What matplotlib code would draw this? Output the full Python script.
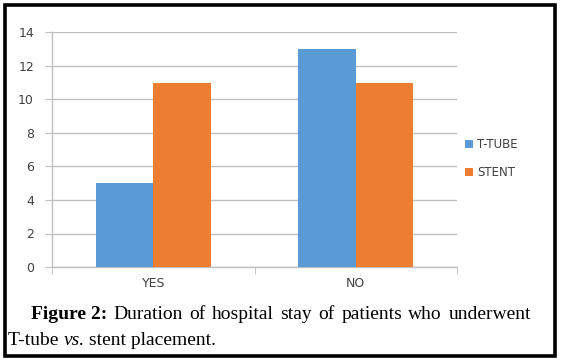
import numpy as np
import matplotlib.pyplot as plt
from matplotlib.patches import Rectangle

categories = ["YES", "NO"]
series_names = ["T-TUBE", "STENT"]
t_tube = [5, 13]
stent = [11, 11]
y_ticks = [0, 2, 4, 6, 8, 10, 12, 14]

BLUE = "#5B9BD5"
ORANGE = "#ED7D31"
GRID = "#BFBFBF"
TICK = "#404040"

W, H = 564, 364
fig = plt.figure(figsize=(W / 100, H / 100), dpi=100)
fig.patch.set_facecolor("white")

# outer black frame
fig.patches.append(Rectangle((5 / W, 1 - 356 / H), 550 / W, 351 / H,
                             transform=fig.transFigure, fill=False,
                             edgecolor="black", lw=2.6))

ax = fig.add_axes([52 / W, 1 - 267 / H, 405 / W, 234.5 / H])
x = np.arange(len(categories))
bw = 0.285
ax.bar(x - bw / 2, t_tube, bw, color=BLUE, label=series_names[0], zorder=3)
ax.bar(x + bw / 2, stent, bw, color=ORANGE, label=series_names[1], zorder=3)

ax.set_xlim(-0.5, 1.5)
ax.set_ylim(0, 14)
ax.set_yticks(y_ticks)
ax.yaxis.grid(True, color=GRID, lw=1.0, zorder=0)
ax.set_axisbelow(True)
for s in ("top", "right"):
    ax.spines[s].set_visible(False)
for s in ("left", "bottom"):
    ax.spines[s].set_color(GRID)
    ax.spines[s].set_linewidth(1.0)

ax.set_xticks(x)
ax.set_xticklabels(categories)
ax.set_xticks([-0.5, 0.5, 1.5], minor=True)
ax.tick_params(axis="x", which="major", length=0, pad=7, labelsize=9, labelcolor=TICK)
ax.tick_params(axis="x", which="minor", length=5, color=GRID, direction="out")
ax.tick_params(axis="y", length=5, color=GRID, labelsize=9, labelcolor=TICK, pad=8)

leg = ax.legend(loc="center left", bbox_to_anchor=(1.02, 0.463),
                frameon=False, fontsize=8.5, handlelength=0.7, handleheight=0.7,
                handletextpad=0.3, labelspacing=1.25, labelcolor=TICK,
                borderpad=0, borderaxespad=0)

# caption, first line justified
serif = "Liberation Serif"
fs = 14
y1 = 1 - 319 / H
left, right = 31 / W, 531 / W
fig.canvas.draw()
r = fig.canvas.get_renderer()
words = [("Figure 2:", "bold")] + [(w, "normal") for w in
         "Duration of hospital stay of patients who underwent".split()]
arts = [fig.text(0, y1, w, fontsize=fs, family=serif, fontweight=wt, va="baseline")
        for w, wt in words]
widths = [a.get_window_extent(r).width / (W) for a in arts]
gap = (right - left - sum(widths)) / (len(arts) - 1)
xpos = left
for a, wd in zip(arts, widths):
    a.set_x(xpos)
    xpos += wd + gap

y2 = 1 - 345 / H
t1 = fig.text(8 / W, y2, "T-tube ", fontsize=fs, family=serif, va="baseline")
w1 = t1.get_window_extent(r).width / W
t2 = fig.text(8 / W + w1, y2, "vs.", fontsize=fs, family=serif, style="italic", va="baseline")
w2 = t2.get_window_extent(r).width / W
fig.text(8 / W + w1 + w2, y2, " stent placement.", fontsize=fs, family=serif, va="baseline")

fig.savefig("out.png", dpi=100, facecolor="white")
